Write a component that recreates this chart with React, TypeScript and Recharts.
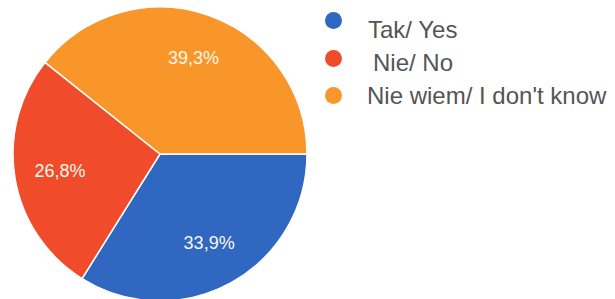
import { PieChart, Pie, Cell, Legend } from "recharts";

const LABELS = ["Tak/ Yes", "Nie/ No", "Nie wiem/ I don't know"];
const VALUES = [33.9, 26.8, 39.3];
const COLORS = ["#2f67c1", "#f04b2b", "#f8962a"];

const data = LABELS.map((name, i) => ({ name, value: VALUES[i] }));

const RADIAN = Math.PI / 180;
const FONT = "'Liberation Sans', Arial, sans-serif";

function SliceLabel(props: any) {
  const { cx, cy, midAngle, outerRadius, value } = props;
  const r = outerRadius * 0.69;
  const x = cx + r * Math.cos(-midAngle * RADIAN);
  const y = cy + r * Math.sin(-midAngle * RADIAN);
  return (
    <text
      x={x}
      y={y}
      fill="#fdf6ec"
      textAnchor="middle"
      dominantBaseline="central"
      fontSize={18}
      fontFamily={FONT}
    >
      {value.toFixed(1).replace(".", ",")}%
    </text>
  );
}

// legend rows, page coordinates (dot centre y, text left x, text baseline y)
const DOT_Y = [20, 58, 95];
const TEXT_X = [368, 373, 367];
const BASE_Y = [38, 71, 104];

function LegendBox(props: any) {
  const payload = props.payload || [];
  const fs = 24;
  return (
    <div style={{ position: "relative", width: 615, height: 120 }}>
      {LABELS.map((label, i) => {
        const entry = payload.find((p: any) => p.value === label);
        return (
          <div key={label}>
            <div
              style={{
                position: "absolute",
                left: 333 - 8.5,
                top: DOT_Y[i] - 8.5,
                width: 17,
                height: 17,
                borderRadius: "50%",
                background: entry ? entry.color : COLORS[i],
              }}
            />
            <div
              style={{
                position: "absolute",
                left: TEXT_X[i],
                top: BASE_Y[i] - fs * 0.8465,
                fontSize: fs,
                lineHeight: fs + "px",
                color: "#555555",
                fontFamily: FONT,
                whiteSpace: "nowrap",
              }}
            >
              {label}
            </div>
          </div>
        );
      })}
    </div>
  );
}

export default function App() {
  return (
    <div style={{ position: "absolute", left: 0, top: 0, width: 615, height: 299, background: "#fff" }}>
      <PieChart width={615} height={299} margin={{ top: 0, right: 0, bottom: 0, left: 0 }}>
        <Pie
          data={data}
          dataKey="value"
          nameKey="name"
          cx={160}
          cy={154}
          outerRadius={147}
          startAngle={0}
          endAngle={-360}
          stroke="#fff"
          strokeWidth={1.5}
          label={SliceLabel}
          labelLine={false}
          isAnimationActive={false}
        >
          {data.map((d, i) => (
            <Cell key={d.name} fill={COLORS[i]} />
          ))}
        </Pie>
        <Legend
          layout="vertical"
          content={LegendBox}
          wrapperStyle={{ position: "absolute", left: 0, top: 0, width: 615 }}
        />
      </PieChart>
    </div>
  );
}
